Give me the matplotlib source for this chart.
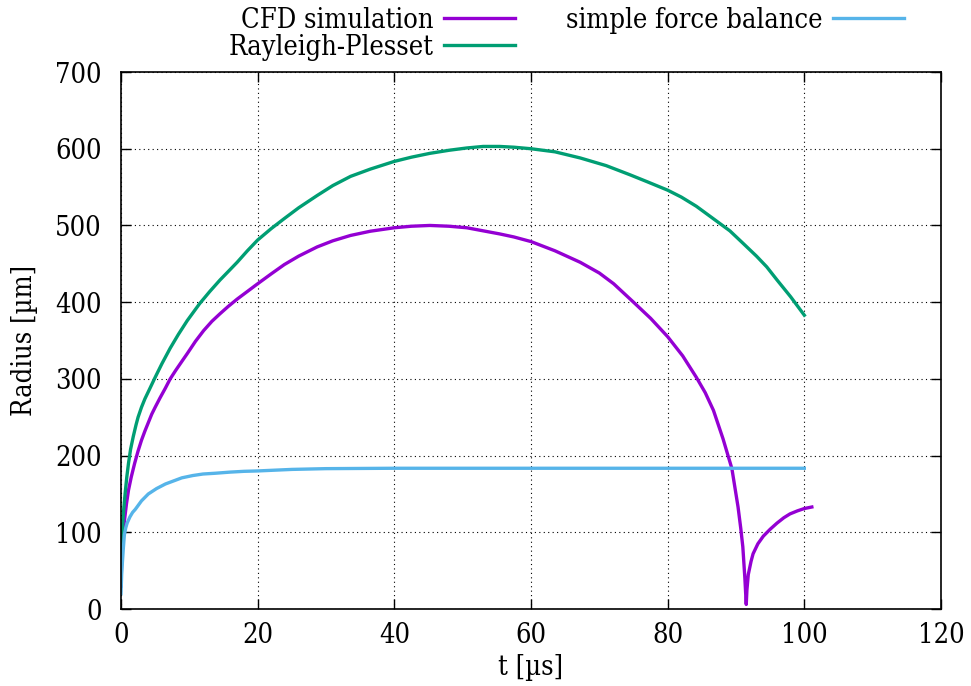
# bubble radius over time: CFD vs Rayleigh-Plesset vs simple force balance

import matplotlib
matplotlib.use("Agg")
import matplotlib.pyplot as plt

# values
t_cfd = [0, 0.1, 0.3, 0.5, 0.8, 1.1, 1.5, 2.0, 2.5, 3.0, 3.5, 4.0, 4.5, 5.0,
         5.7, 6.5, 7.2, 8.0, 9.0, 9.7, 10.9, 12.1, 13.3, 14.5, 15.7, 17.0,
         18.5, 20.0, 22.0, 23.9, 26.0, 28.7, 31.0, 33.6, 36.5, 40.0, 42.5,
         45.2, 48.0, 50.6, 53.0, 55.4, 57.5, 60.0, 63.5, 67.2, 70.0, 72.1,
         75.0, 77.5, 80.0, 82.2, 84.2, 85.5, 86.7, 88.1, 89.4, 90.3, 90.7,
         91.0, 91.3, 91.5, 91.6, 91.8, 92.2, 92.5, 93.2, 94.0, 95.0, 96.0,
         97.0, 97.9, 99.0, 100.0, 101.1]
r_cfd = [30, 65, 97, 115, 137, 155, 172, 190, 206, 220, 232, 243, 254, 263,
         275, 288, 300, 311, 324, 333, 349, 363, 375, 385, 394.5, 404,
         414, 424, 437, 449, 460, 472, 480, 487, 492.5, 497, 499,
         500, 499, 497, 493, 489, 485, 479, 467, 452, 438, 424,
         400, 379, 355, 330, 302, 282, 259, 222, 183, 133, 105,
         81, 40, 6, 25, 45, 62, 72, 85, 95, 104, 112,
         119, 124, 128, 131, 133]

t_rp = [0, 0.1, 0.2, 0.4, 0.6, 0.85, 1.1, 1.4, 1.8, 2.2, 2.5, 3.0, 3.5, 4.2,
        5.0, 6.0, 7.2, 8.4, 9.7, 11.5, 13.0, 14.5, 15.7, 17.0, 18.5, 20.0,
        22.0, 23.9, 26.0, 28.7, 31.0, 33.6, 36.5, 40.0, 42.5, 45.2, 48.0,
        50.6, 53.0, 55.4, 57.5, 60.0, 63.5, 67.2, 71.0, 74.5, 77.0, 80.0,
        82.0, 84.2, 86.5, 89.1, 91.0, 93.0, 94.5, 96.0, 98.0, 100.0]
r_rp = [35, 75, 105, 130, 150, 172, 190, 208, 225, 240, 250, 263, 274, 287,
        302, 320, 340, 358, 376, 398, 414, 429, 440, 452, 467, 481,
        496, 509, 523, 539, 552, 564, 573.5, 583.5, 589, 594, 598,
        601, 603, 603, 602, 600, 596, 588, 578, 566, 557, 546,
        537, 525, 510, 493, 477, 460, 446, 429, 407, 383]

t_sfb = [0, 0.1, 0.2, 0.35, 0.5, 0.7, 0.9, 1.3, 1.7, 2.1, 3.0, 4.0, 5.2, 6.5,
         7.7, 8.9, 10.5, 12.0, 13.8, 16.0, 18.0, 20.0, 22.5, 25.0, 30.0,
         40.0, 100.0]
r_sfb = [20, 45, 60, 80, 97, 106, 112, 120, 126, 130, 141, 150, 157, 163,
         167, 171, 174, 176, 177, 178.5, 179.5, 180, 181, 182, 183,
         183.5, 183.5]

plt.rcParams["font.family"] = ["DejaVu Serif"]
plt.rcParams["font.stretch"] = "condensed"
plt.rcParams["font.size"] = 19.5

fig = plt.figure(figsize=(9.71, 6.86), dpi=100)
ax = fig.add_axes([0.1246, 0.1122, 0.9691 - 0.1246, 0.895 - 0.1122])

ax.plot(t_cfd, r_cfd, color="#9400D3", lw=2.4, label="CFD simulation")
ax.plot(t_rp, r_rp, color="#009E73", lw=2.4, label="Rayleigh-Plesset")
ax.plot(t_sfb, r_sfb, color="#56B4E9", lw=2.4, label="simple force balance")

ax.set_xlim(0, 120)
ax.set_ylim(0, 700)
ax.set_xticks(range(0, 121, 20))
ax.set_yticks(range(0, 701, 100))
ax.tick_params(direction="in", length=7, width=1, top=True, right=True)
ax.tick_params(axis="y", pad=14)
ax.tick_params(axis="x", pad=9)
ax.grid(True, color="black", linestyle=(0, (1, 3)), lw=0.8)
for s in ax.spines.values():
    s.set_linewidth(1.2)

ax.set_xlabel("t [µs]", labelpad=4)
ax.set_ylabel("Radius [µm]", labelpad=12)

fig.legend(loc="upper center", bbox_to_anchor=(0.583, 1.026), ncol=2,
           markerfirst=False, frameon=False, handlelength=2.6,
           columnspacing=1.9, labelspacing=0.0, handletextpad=0.4)

plt.savefig("out.png", dpi=100)
